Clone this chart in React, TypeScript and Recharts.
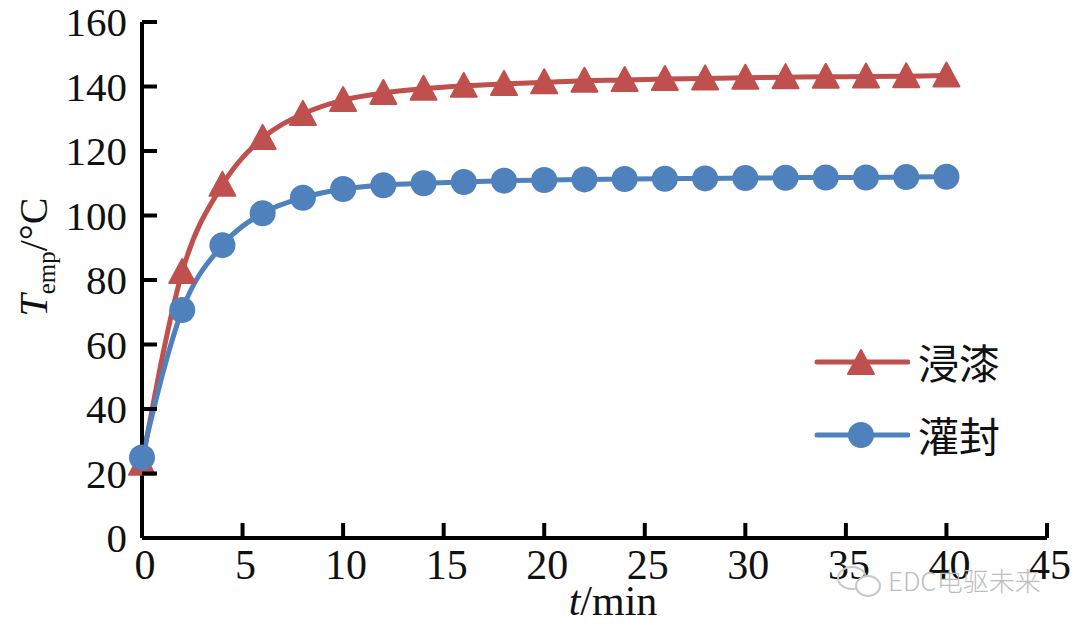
import { LineChart, Line, XAxis, YAxis } from "recharts";

const times = [0, 2, 4, 6, 8, 10, 12, 14, 16, 18, 20, 22, 24, 26, 28, 30, 32, 34, 36, 38, 40];
const dipping = [23, 82.5, 109.5, 124, 131.5, 135.8, 138, 139.3, 140.2, 140.8, 141.3, 141.8, 142, 142.3, 142.5, 142.7, 142.9, 143, 143.1, 143.2, 143.4];
const potting = [25, 70.7, 90.8, 100.7, 105.5, 108.2, 109.4, 110, 110.4, 110.8, 111, 111.2, 111.3, 111.4, 111.5, 111.6, 111.7, 111.8, 111.8, 111.9, 112];
const xTicks = [0, 5, 10, 15, 20, 25, 30, 35, 40, 45];
const yTicks = [0, 20, 40, 60, 80, 100, 120, 140, 160];
const seriesNames = ["浸漆", "灌封"];

const RED = "#C0504D";
const BLUE = "#4F81BD";
const SERIF = "'Liberation Serif', 'Times New Roman', serif";
const CJK = "'Noto Sans CJK SC', sans-serif";

const data = times.map((t, i) => ({ t, dip: dipping[i], pot: potting[i] }));

const Triangle = (props: any) => {
  const { cx, cy } = props;
  if (cx == null || cy == null) return null;
  return <polygon points={`${cx},${cy - 13} ${cx - 13},${cy + 11} ${cx + 13},${cy + 11}`} fill={RED} stroke={RED} strokeWidth={2} strokeLinejoin="round" />;
};

const Circle = (props: any) => {
  const { cx, cy } = props;
  if (cx == null || cy == null) return null;
  return <circle cx={cx} cy={cy} r={13} fill={BLUE} />;
};

const XTick = (props: any) => {
  const { x, y, payload } = props;
  return (
    <g>
      <line x1={x} x2={x} y1={y} y2={y - 15} stroke="#000" strokeWidth={4} />
      <text x={x + 3} y={y + 41} textAnchor="middle" fontSize={42} fontFamily={SERIF} fill="#111">
        {payload.value}
      </text>
    </g>
  );
};

const YTick = (props: any) => {
  const { x, y, payload } = props;
  return (
    <g>
      <line x1={x} x2={x + 15} y1={y} y2={y} stroke="#000" strokeWidth={4} />
      <text x={x - 15} y={y + 14} textAnchor="end" fontSize={41} fontFamily={SERIF} fill="#111">
        {payload.value}
      </text>
    </g>
  );
};

const LegendBox = () => (
  <div style={{ position: "absolute", left: 810, top: 325, fontFamily: CJK }}>
    {seriesNames.map((name, i) => (
      <div key={name} style={{ display: "flex", alignItems: "center", height: 73 }}>
        <svg width={100} height={44}>
          <line x1={7} x2={98} y1={22} y2={22} stroke={i === 0 ? RED : BLUE} strokeWidth={5} strokeLinecap="round" />
          {i === 0 ? (
            <polygon points="51,10 38,34 64,34" fill={RED} stroke={RED} strokeWidth={2} strokeLinejoin="round" />
          ) : (
            <circle cx={51} cy={22} r={13} fill={BLUE} />
          )}
        </svg>
        <span style={{ fontSize: 41, color: "#111", marginLeft: 8, lineHeight: 1 }}>{name}</span>
      </div>
    ))}
  </div>
);

export default function App() {
  return (
    <div style={{ position: "absolute", left: 0, top: 0, width: 1080, height: 629, background: "#fff" }}>
      <LineChart width={1080} height={629} data={data} margin={{ top: 22, right: 33, bottom: 0, left: 0 }}>
        <XAxis
          dataKey="t"
          type="number"
          domain={[0, 45]}
          ticks={xTicks}
          height={91}
          tickSize={0}
          tickMargin={0}
          axisLine={{ stroke: "#000", strokeWidth: 4 }}
          tickLine={false}
          tick={<XTick />}
          interval={0}
        />
        <YAxis
          type="number"
          domain={[0, 160]}
          ticks={yTicks}
          width={142}
          tickSize={0}
          tickMargin={0}
          axisLine={{ stroke: "#000", strokeWidth: 4 }}
          tickLine={false}
          tick={<YTick />}
          interval={0}
        />
        <Line
          type="monotone"
          dataKey="dip"
          name={seriesNames[0]}
          stroke={RED}
          strokeWidth={5}
          dot={<Triangle />}
          activeDot={false}
          isAnimationActive={false}
        />
        <Line
          type="monotone"
          dataKey="pot"
          name={seriesNames[1]}
          stroke={BLUE}
          strokeWidth={5}
          dot={<Circle />}
          activeDot={false}
          isAnimationActive={false}
        />
      </LineChart>
      <LegendBox />
      <svg width={1080} height={629} style={{ position: "absolute", left: 0, top: 0, pointerEvents: "none" }}>
        <text transform="translate(47,257) rotate(-90)" textAnchor="middle" fontSize={40} fontFamily={SERIF} fill="#111">
          <tspan fontStyle="italic">T</tspan>
          <tspan fontSize={25} dy={8}>emp</tspan>
          <tspan dy={-8}>/°C</tspan>
        </text>
        <text x={613} y={615} textAnchor="middle" fontSize={42} fontFamily={SERIF} fill="#111">
          <tspan fontStyle="italic">t</tspan>
          <tspan>/min</tspan>
        </text>
        <g fill="none" stroke="#c8c8c8" strokeWidth={2}>
          <ellipse cx={852} cy={578} rx={14} ry={11} />
          <ellipse cx={868} cy={586} rx={12} ry={10} fill="#fff" />
        </g>
        <text x={888} y={591} fontSize={26} fontFamily={CJK} fontWeight={300} fill="#bdbdbd">
          EDC电驱未来
        </text>
      </svg>
    </div>
  );
}
